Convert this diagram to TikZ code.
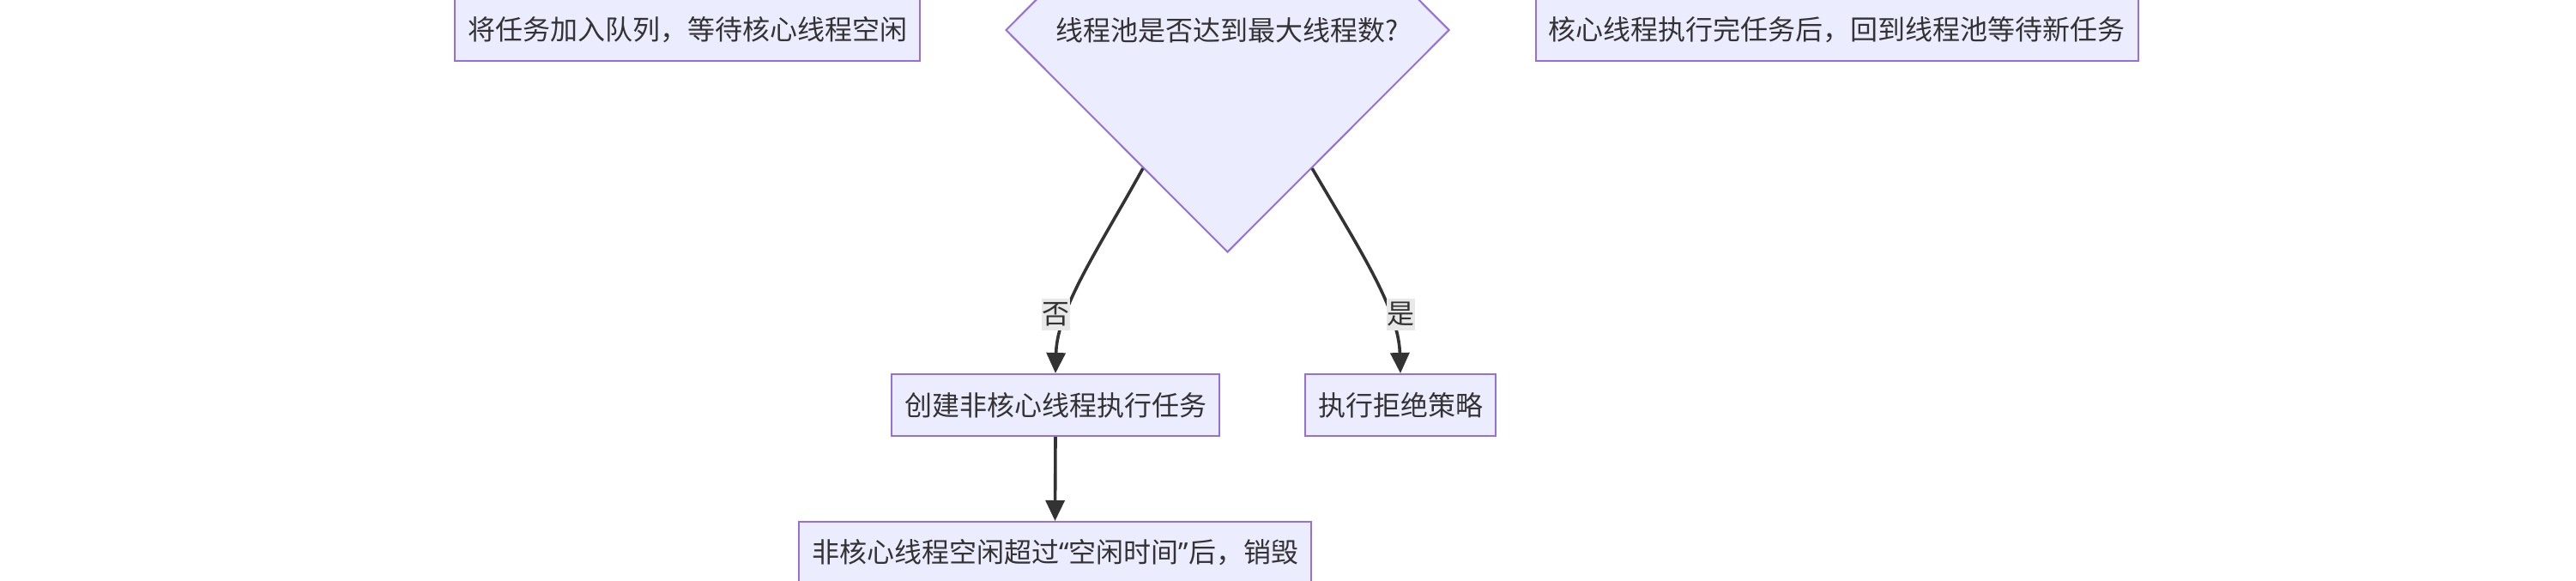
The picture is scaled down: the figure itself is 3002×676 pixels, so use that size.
\documentclass[tikz,border=0pt]{standalone}
\usepackage{fontspec}
\newfontfamily\cjk{Noto Sans CJK SC}
\newfontfamily\latinq{Noto Sans}
\usetikzlibrary{calc,shapes.geometric,arrows.meta}
\definecolor{boxfill}{HTML}{ECECFF}
\definecolor{boxline}{HTML}{9370DB}
\definecolor{edgeline}{HTML}{333333}
\definecolor{textgrey}{HTML}{333333}
\definecolor{labelbg}{HTML}{E8E8E8}
\begin{document}
\begin{tikzpicture}[x=0.5pt, y=-0.5pt,
  font=\cjk\fontsize{16pt}{19pt}\selectfont,
  flowbox/.style={draw=boxline, fill=boxfill, line width=1pt, text=textgrey, inner xsep=7.5pt, inner ysep=0pt, minimum height=36pt},
  decision/.style={diamond, draw=boxline, fill=boxfill, line width=1pt, text=textgrey, inner sep=0pt, minimum width=258.5pt, minimum height=259pt},
  flowedge/.style={draw=edgeline, line width=1.8pt, -{Triangle[length=12pt,width=11pt]}},
  edgelabel/.style={fill=labelbg, text=textgrey, inner sep=0pt, minimum width=16.5pt, minimum height=18.5pt}]
\useasboundingbox (0,0) rectangle (3002,676);
\node [flowbox] (queue) at (801,35) {将任务加入队列，等待核心线程空闲};
\node [decision] (maxcheck) at (1430.5,35) {线程池是否达到最大线程数?};
\node [flowbox] (back) at (2140.5,35) {核心线程执行完任务后，回到线程池等待新任务};
\node [flowbox] (create) at (1230,472) {创建非核心线程执行任务};
\node [flowbox] (reject) at (1632,472) {执行拒绝策略};
\node [flowbox] (destroy) at (1229.5,644) {非核心线程空闲超过{\latinq “}空闲时间{\latinq ”}后，销毁};
% edges leaving the decision
\coordinate (noStart) at ($(maxcheck.west)!0.62!(maxcheck.south)$);
\coordinate (yesStart) at ($(maxcheck.east)!0.62!(maxcheck.south)$);
\draw [flowedge] (noStart) .. controls (1280,290) and (1232,360) .. (create.north);
\node [edgelabel] (noLabel) at (1230,366) {否};
\draw [flowedge] (yesStart) .. controls (1584,290) and (1630,360) .. (reject.north);
\node [edgelabel] (yesLabel) at (1632,366) {是};
\draw [flowedge] (create.south) -- (destroy.north);
\end{tikzpicture}
\end{document}
